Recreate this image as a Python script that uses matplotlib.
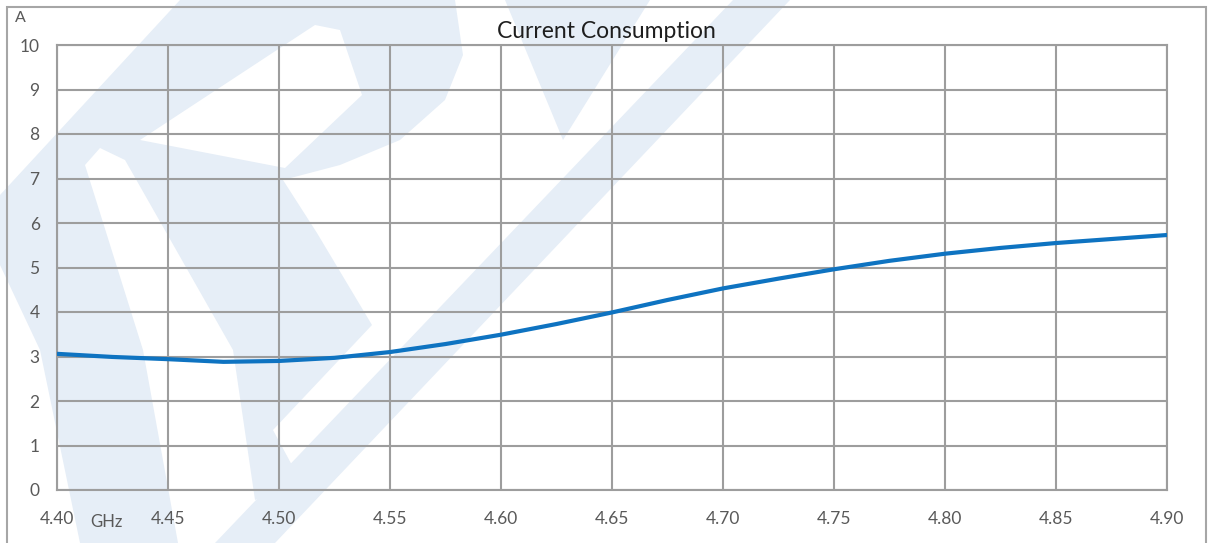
import matplotlib
matplotlib.use("Agg")
import matplotlib.pyplot as plt
from matplotlib.patches import Polygon, Rectangle

plt.rcParams['font.family'] = ['Lato', 'DejaVu Sans']

# data
freq_ghz = [4.400, 4.425, 4.450, 4.475, 4.500, 4.525, 4.550, 4.575, 4.600, 4.625, 4.650,
            4.675, 4.700, 4.725, 4.750, 4.775, 4.800, 4.825, 4.850, 4.875, 4.900]
current_a = [3.06, 2.99, 2.94, 2.88, 2.90, 2.97, 3.10, 3.28, 3.49, 3.73, 3.99,
             4.27, 4.53, 4.75, 4.96, 5.15, 5.31, 5.44, 5.55, 5.64, 5.73]
x_ticks = [4.40, 4.45, 4.50, 4.55, 4.60, 4.65, 4.70, 4.75, 4.80, 4.85, 4.90]
y_ticks = list(range(0, 11))

W, H = 1212, 543
fig = plt.figure(figsize=(W / 100, H / 100), dpi=100)

def px(pts):
    # pixel coords (y down) -> figure fraction
    return [(x / W, 1 - y / H) for x, y in pts]

def blob(pts, color, z):
    fig.add_artist(Polygon(px(pts), closed=True, facecolor=color, edgecolor="none",
                           transform=fig.transFigure, zorder=z))

wm = "#e6eef7"
# watermark logo, rough shapes
logo = [(180, 0), (455, 0), (463, 55), (445, 100), (400, 140), (340, 165), (283, 180),
        (317, 233), (372, 325), (273, 430), (300, 480), (255, 500), (233, 350),
        (125, 160), (100, 148), (85, 165), (143, 350), (178, 543), (80, 543),
        (40, 350), (0, 265), (0, 195)]
bowl_hole = [(140, 140), (315, 25), (340, 30), (362, 95), (285, 168)]
band = [(733, 0), (790, 0), (275, 543), (215, 543)]
wedge = [(505, 0), (650, 0), (563, 140)]
blob(logo, wm, -3)
blob(bowl_hole, "white", -2)
blob(band, wm, -1)
blob(wedge, wm, -1)

# chart border
fig.add_artist(Rectangle((7 / W, -0.1), (1206 - 7) / W, 1 - 7 / H + 0.1, fill=False,
                         edgecolor="#a6a6a6", linewidth=1.5, transform=fig.transFigure,
                         zorder=0.5))

ax = fig.add_axes([57 / W, 1 - 490 / H, (1167 - 57) / W, (490 - 45) / H])
ax.set_zorder(2)
ax.patch.set_alpha(0)

ax.plot(freq_ghz, current_a, color="#0e73c1", linewidth=3.0, solid_capstyle="butt", zorder=3)

ax.set_xlim(4.40, 4.90)
ax.set_ylim(0, 10)
ax.set_xticks(x_ticks)
ax.set_xticklabels(["%.2f" % v for v in x_ticks])
ax.set_yticks(y_ticks)
ax.grid(True, color="#9d9d9d", linewidth=1.5)
ax.set_axisbelow(True)
for sp in ax.spines.values():
    sp.set_color("#9d9d9d")
    sp.set_linewidth(1.5)
ax.tick_params(length=0, labelsize=12.5, colors="#595959")
ax.tick_params(axis="x", pad=15)
ax.tick_params(axis="y", pad=12.5)

fig.text(606 / W, 1 - 31 / H, "Current Consumption", ha="center", va="center",
         fontsize=16.5, color="#1e1e1e", zorder=3)
fig.text(15 / W, 1 - 18 / H, "A", ha="left", va="center", fontsize=11.5, color="#595959",
         zorder=3)
fig.text(90 / W, 1 - 522 / H, "GHz", ha="left", va="center", fontsize=12, color="#595959",
         zorder=3)

fig.savefig("out.png", dpi=100)
